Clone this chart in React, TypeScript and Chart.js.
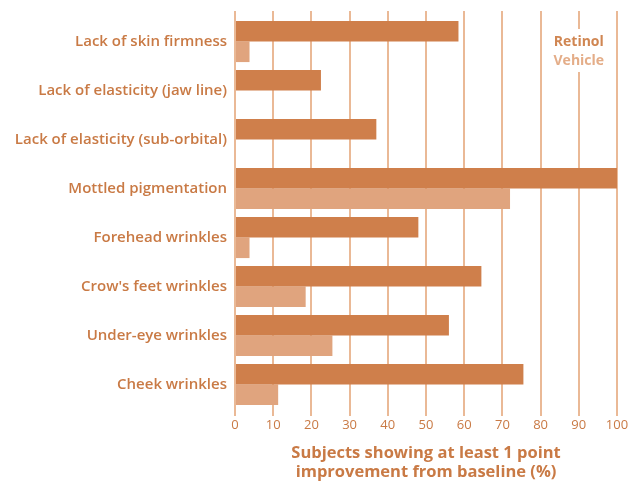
import React, { useEffect, useRef } from "react";
import { Chart, registerables } from "chart.js";

Chart.register(...registerables);

const categories = [
  "Lack of skin firmness",
  "Lack of elasticity (jaw line)",
  "Lack of elasticity (sub-orbital)",
  "Mottled pigmentation",
  "Forehead wrinkles",
  "Crow's feet wrinkles",
  "Under-eye wrinkles",
  "Cheek wrinkles",
];
const retinolValues = [58.5, 22.5, 37, 100, 48, 64.5, 56, 75.5];
const vehicleValues: (number | null)[] = [3.8, null, null, 72, 3.8, 18.5, 25.5, 11.3];
const xTicks = [0, 10, 20, 30, 40, 50, 60, 70, 80, 90, 100];
const axisTitle = ["Subjects showing at least 1 point", "improvement from baseline (%)"];
const seriesNames = ["Retinol", "Vehicle"];

const RETINOL = "#cf7f4b";
const VEHICLE = "#e0a47e";
const GRID = "#eab996";
const TEXT = "#c97a45";
const FONT = "'Open Sans'";

const overlayPlugin = {
  id: "overlay",
  afterDraw(chart: any) {
    const ctx = chart.ctx;
    const x = chart.scales.x;
    const area = chart.chartArea;
    ctx.save();
    ctx.strokeStyle = GRID;
    ctx.lineWidth = 2;
    xTicks.forEach((t) => {
      const px = Math.round(x.getPixelForValue(t));
      ctx.beginPath();
      ctx.moveTo(px, area.top - 6);
      ctx.lineTo(px, area.top);
      ctx.stroke();
    });
    const cx = x.getPixelForValue(90);
    ctx.fillStyle = "#ffffff";
    ctx.fillRect(cx - 32, area.top + 12, 64, 43);
    ctx.font = `bold 14px ${FONT}`;
    ctx.textAlign = "center";
    ctx.textBaseline = "middle";
    ctx.fillStyle = "#d08652";
    ctx.fillText(seriesNames[0], cx, area.top + 25);
    ctx.fillStyle = "#e4ad88";
    ctx.fillText(seriesNames[1], cx, area.top + 44);
    ctx.restore();
  },
};

export default function App() {
  const ref = useRef<HTMLCanvasElement>(null);
  useEffect(() => {
    document.body.style.margin = "0";
    const chart = new Chart(ref.current!, {
      type: "bar",
      data: {
        labels: categories,
        datasets: [
          { label: seriesNames[0], data: retinolValues, backgroundColor: RETINOL },
          { label: seriesNames[1], data: vehicleValues, backgroundColor: VEHICLE },
        ],
      },
      options: {
        indexAxis: "y",
        animation: false,
        responsive: false,
        layout: { padding: { top: 16, right: 21, left: 0, bottom: 0 } },
        categoryPercentage: 0.84,
        barPercentage: 1,
        plugins: { legend: { display: false }, tooltip: { enabled: false } },
        scales: {
          x: {
            type: "linear",
            min: 0,
            max: 100,
            afterBuildTicks: (s: any) => {
              s.ticks = xTicks.map((v) => ({ value: v }));
            },
            grid: { color: GRID, lineWidth: 2, tickLength: 7, drawTicks: true },
            border: { display: false },
            ticks: { color: TEXT, font: { family: FONT, size: 13 }, padding: 1 },
            title: {
              display: true,
              text: axisTitle,
              color: TEXT,
              font: { family: FONT, size: 16.5, weight: "bold", lineHeight: 1.15 },
              padding: { top: 0, bottom: 6 },
            },
            afterFit: (s: any) => {
              s.height = 79;
            },
          },
          y: {
            grid: { display: false, drawTicks: false },
            border: { display: false },
            ticks: { color: TEXT, font: { family: FONT, size: 15, weight: 600 }, padding: 8 },
            afterFit: (s: any) => {
              s.width = 235;
            },
          },
        },
      },
      plugins: [overlayPlugin],
    } as any);
    return () => chart.destroy();
  }, []);
  return (
    <div style={{ width: 638, height: 488 }}>
      <canvas ref={ref} width={638} height={488} style={{ display: "block" }} />
    </div>
  );
}
